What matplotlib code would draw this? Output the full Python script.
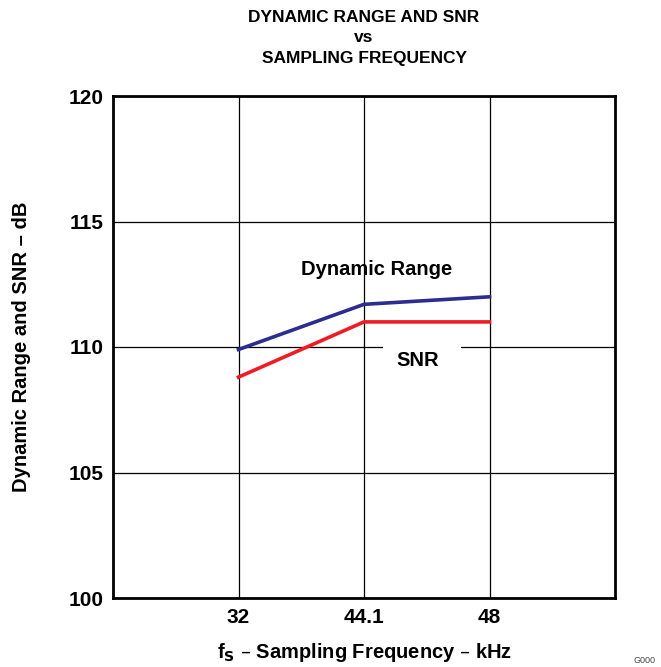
import matplotlib
matplotlib.use("Agg")
import matplotlib.pyplot as plt
from matplotlib.patches import Rectangle
from matplotlib import font_manager

freq_labels = ["32", "44.1", "48"]
dynamic_range = [109.9, 111.7, 112.0]
snr = [108.8, 111.0, 111.0]
y_ticks = [100, 105, 110, 115, 120]

plt.rcParams['font.family'] = ['Liberation Sans', 'DejaVu Sans']
plt.rcParams['font.weight'] = 'bold'

names = {f.name for f in font_manager.fontManager.ttflist}
if 'Liberation Sans Narrow' in names:
    title_family = ['Liberation Sans Narrow', 'DejaVu Sans']
    title_size = 15
else:
    title_family = ['Liberation Sans', 'DejaVu Sans']
    title_size = 12.5

fig = plt.figure(figsize=(6.61, 6.67), dpi=100)
ax = fig.add_axes([113/661, 1-598/667, (615-113)/661, (598-96)/667])

pos = [1, 2, 3]
ax.set_xlim(0, 4)
ax.set_ylim(100, 120)
ax.set_xticks(pos)
ax.set_xticklabels(freq_labels)
ax.set_yticks(y_ticks)
ax.tick_params(length=0, labelsize=15, pad=7)
for lab in ax.get_xticklabels() + ax.get_yticklabels():
    lab.set_fontweight('bold')
ax.grid(True, color='black', linewidth=0.9)
ax.set_axisbelow(True)
for s in ax.spines.values():
    s.set_linewidth(2)

ax.plot(pos, dynamic_range, color='#2b2d8f', linewidth=2.6, zorder=3)
ax.plot(pos, snr, color='#ee1c25', linewidth=2.6, zorder=3)

ax.text(2.1, 113.1, "Dynamic Range", fontsize=14.5, fontweight='bold', ha='center', va='center')
ax.add_patch(Rectangle((2.15, 109.7), 0.62, 0.6, facecolor='white', edgecolor='none', zorder=4))
ax.text(2.43, 109.45, "SNR", fontsize=14.5, fontweight='bold', ha='center', va='center', zorder=5)

for ypx, txt in [(18, "DYNAMIC RANGE AND SNR"), (38, "vs"), (58, "SAMPLING FREQUENCY")]:
    fig.text(364/661, 1-ypx/667, txt, ha='center', va='center', fontsize=title_size,
             fontweight='bold', family=title_family)

fig.text(364/661, 1-652/667, r"f$_\mathbf{S}$ – Sampling Frequency – kHz", ha='center', va='center',
         fontsize=14.5, fontweight='bold')
fig.text(22/661, 1-347/667, "Dynamic Range and SNR – dB", ha='center', va='center', rotation=90,
         fontsize=14.5, fontweight='bold')
fig.text(656/661, 2/667, "G000", ha='right', va='bottom', fontsize=6.5, fontweight='normal', color='#444444')

fig.savefig("out.png", dpi=100)
